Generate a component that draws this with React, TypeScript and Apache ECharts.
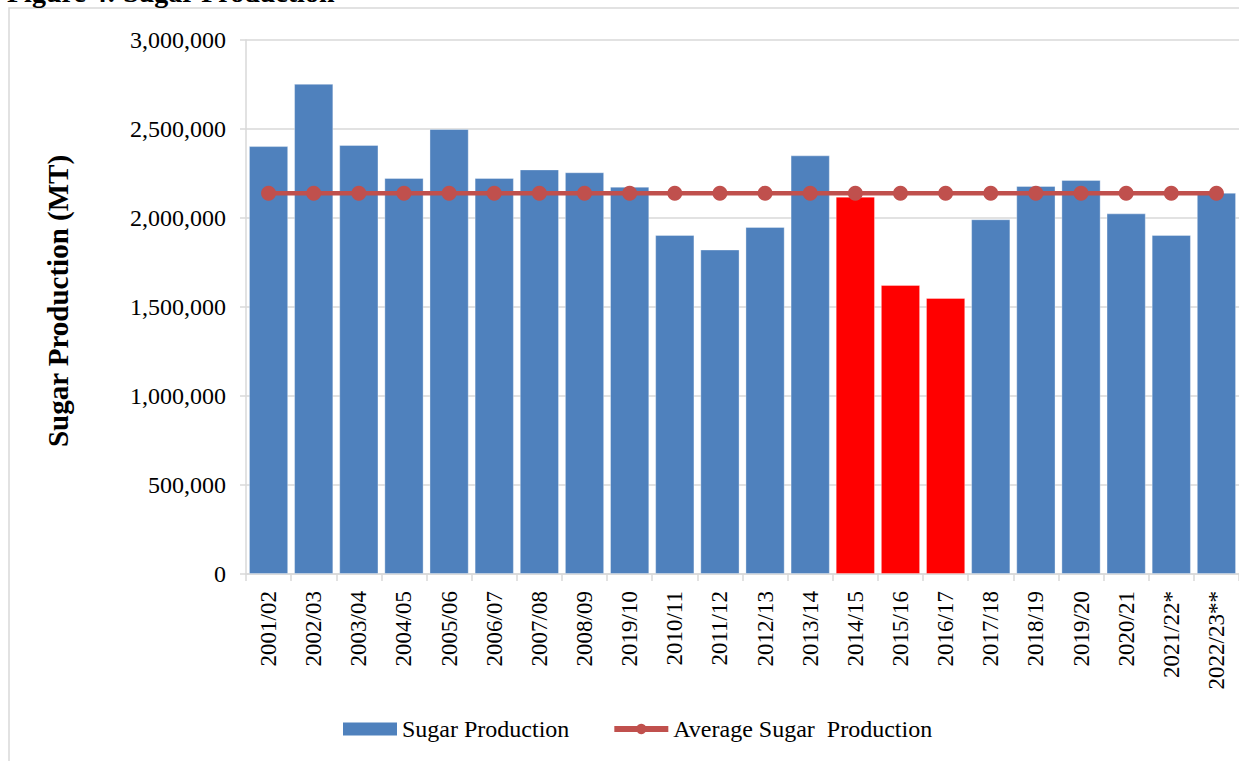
import React, { useEffect, useRef } from "react";
import * as echarts from "echarts";

const categories = [
  "2001/02", "2002/03", "2003/04", "2004/05", "2005/06", "2006/07", "2007/08",
  "2008/09", "2019/10", "2010/11", "2011/12", "2012/13", "2013/14", "2014/15",
  "2015/16", "2016/17", "2017/18", "2018/19", "2019/20", "2020/21", "2021/22*",
  "2022/23**",
];

const sugarProduction = [
  2404000, 2754000, 2410000, 2225000, 2500000, 2225000, 2273000,
  2257000, 2176000, 1905000, 1823000, 1950000, 2352000, 2120000,
  1624000, 1551000, 1993000, 2180000, 2214000, 2026000, 1905000,
  2142000,
];

const averageProduction = [
  2139000, 2139000, 2139000, 2139000, 2139000, 2139000, 2139000,
  2139000, 2139000, 2139000, 2139000, 2139000, 2139000, 2139000,
  2139000, 2139000, 2139000, 2139000, 2139000, 2139000, 2139000,
  2139000,
];

const highlightedYears = ["2014/15", "2015/16", "2016/17"];

const FONT = "'Liberation Serif', 'Times New Roman', serif";
const GRID = "#D9D9D9";
const BLUE = "#4F81BD";
const RED_LINE = "#C0504D";

export default function App() {
  const ref = useRef<HTMLDivElement>(null);

  useEffect(() => {
    if (!ref.current) return;
    const chart = echarts.init(ref.current, undefined, { renderer: "svg" });
    chart.setOption({
      animation: false,
      backgroundColor: "#FFFFFF",
      textStyle: { fontFamily: FONT },
      graphic: [
        {
          type: "rect",
          shape: { x: 9, y: 8, width: 1300, height: 800 },
          style: { fill: "none", stroke: GRID, lineWidth: 1.5 },
          silent: true,
        },
        {
          type: "text",
          x: 7,
          y: 6,
          style: {
            text: "Figure 4: Sugar Production",
            font: `bold 28px ${FONT}`,
            fill: "#000",
            verticalAlign: "bottom",
            align: "left",
          },
        },
        {
          type: "text",
          x: 58,
          y: 301,
          rotation: Math.PI / 2,
          style: {
            text: "Sugar Production (MT)",
            font: `bold 29px ${FONT}`,
            fill: "#000",
            align: "center",
            verticalAlign: "middle",
          },
        },
      ],
      legend: {
        left: 343,
        top: 717,
        padding: 0,
        itemWidth: 54,
        itemHeight: 13,
        itemGap: 42,
        textStyle: { fontFamily: FONT, fontSize: 24, color: "#000" },
        data: [
          { name: "Sugar Production", icon: "rect", itemStyle: { color: BLUE, borderWidth: 0 } },
          {
            name: "Average Sugar  Production",
            itemStyle: { color: RED_LINE },
            lineStyle: { color: RED_LINE, width: 6 },
          },
        ],
      },
      grid: { left: 246, top: 40, width: 995, height: 534, containLabel: false },
      xAxis: {
        type: "category",
        data: categories,
        boundaryGap: true,
        axisLine: { show: true, lineStyle: { color: GRID, width: 1.5 } },
        axisTick: { show: true, length: 7, lineStyle: { color: GRID, width: 1.5 } },
        axisLabel: {
          rotate: 90,
          interval: 0,
          margin: 17,
          fontFamily: FONT,
          fontSize: 23,
          color: "#000",
        },
      },
      yAxis: {
        type: "value",
        min: 0,
        max: 3000000,
        interval: 500000,
        axisLine: { show: true, lineStyle: { color: GRID, width: 1.5 } },
        axisTick: { show: true, length: 6, lineStyle: { color: GRID, width: 1.5 } },
        splitLine: { show: true, lineStyle: { color: GRID, width: 1.5 } },
        axisLabel: {
          margin: 20,
          fontFamily: FONT,
          fontSize: 24,
          color: "#000",
          formatter: (v: number) => v.toLocaleString("en-US"),
        },
      },
      series: [
        {
          name: "Sugar Production",
          type: "bar",
          data: sugarProduction,
          barCategoryGap: "13%",
          itemStyle: {
            color: (p: any) =>
              highlightedYears.includes(categories[p.dataIndex]) ? "#FF0000" : BLUE,
            borderColor: "rgba(255,255,255,0.35)",
            borderWidth: 1,
          },
          z: 2,
        },
        {
          name: "Average Sugar  Production",
          type: "line",
          data: averageProduction,
          symbol: "circle",
          symbolSize: 15,
          lineStyle: { color: RED_LINE, width: 4.5 },
          itemStyle: { color: RED_LINE },
          z: 3,
        },
      ],
    });
    return () => chart.dispose();
  }, []);

  return (
    <div
      ref={ref}
      style={{ position: "absolute", left: 0, top: 0, width: 1239, height: 761 }}
    />
  );
}
